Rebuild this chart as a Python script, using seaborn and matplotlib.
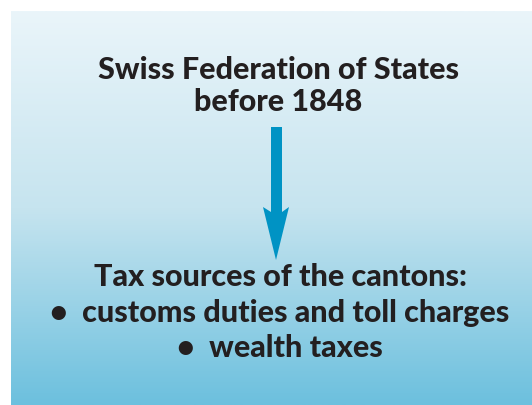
import matplotlib
matplotlib.use("Agg")
import matplotlib.pyplot as plt
import numpy as np
import seaborn as sns

# diagram content
top_lines = ["Swiss Federation of States", "before 1848"]
bottom_lines = ["Tax sources of the cantons:",
                "\u2022  customs duties and toll charges",
                "\u2022  wealth taxes"]
top_y = [70, 102]
bottom_y = [277, 313, 348]

sns.set_style("white")
plt.rcParams['font.family'] = ['Lato', 'DejaVu Sans']

W, H = 532, 405
fig = plt.figure(figsize=(W / 100, H / 100), dpi=100)
ax = fig.add_axes([0, 0, 1, 1])
ax.set_xlim(0, W)
ax.set_ylim(H, 0)
ax.axis('off')

# vertical gradient background
cmap = sns.blend_palette(["#eaf5fa", "#c6e4ef", "#6cc0de"], as_cmap=True)
grad = np.linspace(0, 1, 256).reshape(-1, 1)
ax.imshow(grad, cmap=cmap, aspect='auto', extent=[11, W, H, 11], zorder=0)

# arrow
arrow_col = "#0093c4"
ax.add_patch(plt.Polygon([[271, 127], [282, 127], [282, 212], [289, 207],
                          [276, 260], [263, 207], [271, 212]],
                         closed=True, color=arrow_col, lw=0, zorder=2))

txt_kw = dict(ha='center', va='center', fontsize=22, fontweight='black',
              color='#231f20', zorder=3)
for s, y in zip(top_lines, top_y):
    ax.text(278, y, s, **txt_kw)
for s, y in zip(bottom_lines, bottom_y):
    ax.text(280, y, s, **txt_kw)

fig.savefig("out.png", dpi=100)
